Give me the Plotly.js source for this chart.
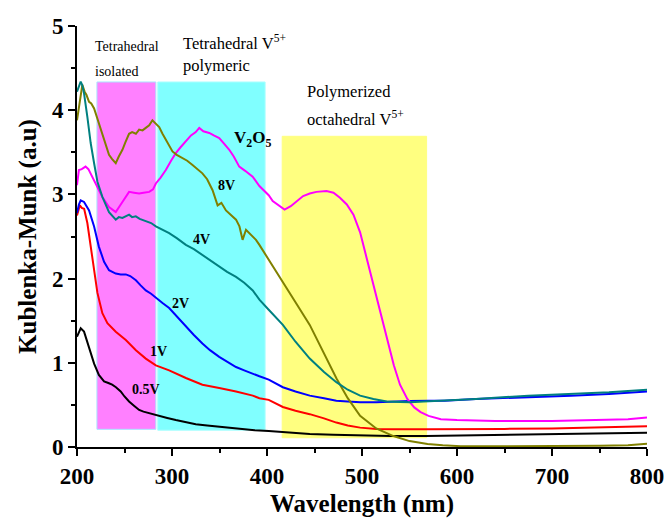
<!DOCTYPE html>
<html>
<head>
<meta charset="utf-8">
<script src="https://cdn.plot.ly/plotly-3.0.1.min.js"></script>
<style>html,body{margin:0;padding:0;background:#fff;}#chart{width:669px;height:522px;}</style>
</head>
<body>
<div id="chart"></div>
<script>
// ---- data ----
var seriesNames = ["8V", "V2O5", "4V", "2V", "1V", "0.5V"];

var wl8V = [200,203,205.6,208,210,212.7,215,218,222,226.7,230,233.7,237,240.8,244,247.8,251,254.8,258,262,265.4,269,272.4,276,279.4,283,286.5,290,293.5,297,300.5,305,311,316,321.6,327,332,337,342.7,348,352,356.8,362,367.4,371,374.3,377.9,383,388.4,392,395.4,400,408,416.7,430,445,460,473.3,485,498,515,533,550,569,585,604,650,700,750,780,800];
var val8V = [3.88,4.10,4.30,4.22,4.18,4.10,4.08,4.02,3.88,3.69,3.58,3.47,3.42,3.37,3.45,3.53,3.62,3.72,3.74,3.72,3.77,3.76,3.79,3.82,3.88,3.84,3.80,3.72,3.65,3.58,3.51,3.47,3.43,3.40,3.35,3.30,3.25,3.18,3.05,2.87,2.90,2.81,2.76,2.70,2.62,2.46,2.58,2.52,2.46,2.40,2.34,2.26,2.12,1.97,1.72,1.45,1.12,0.81,0.58,0.37,0.22,0.13,0.07,0.036,0.02,0.01,0.01,0.01,0.015,0.02,0.04];

var wlV2O5 = [200,202,205,209,212,216,221,226.7,233.7,240.8,247.8,254.8,260,265.4,270,276,280,283,288,293.5,299,304,309,314.6,320,325,328.7,333,339.2,344,349.7,355,360.3,365,370.8,377,384.9,392,401.8,406,412,418.5,425,432,438,445,452,462.6,470,476.8,484,491,498,505,512,519,526,533.5,540,547.7,555,561.7,570,583,600,640,700,750,780,800];
var valV2O5 = [3.11,3.29,3.30,3.33,3.30,3.21,3.10,2.97,2.85,2.79,2.91,3.03,3.02,3.01,3.02,3.03,3.06,3.13,3.20,3.29,3.40,3.49,3.56,3.63,3.70,3.74,3.79,3.75,3.73,3.70,3.67,3.60,3.53,3.45,3.33,3.28,3.21,3.10,2.99,2.92,2.87,2.82,2.86,2.93,2.98,3.01,3.03,3.04,3.02,2.96,2.88,2.76,2.55,2.24,1.93,1.61,1.28,0.97,0.74,0.57,0.47,0.415,0.37,0.33,0.32,0.31,0.31,0.32,0.33,0.35];

var wl4V = [200,202,203.9,205.5,207.4,210.9,214.4,218,221.5,226.7,233.7,240.8,244,247.8,251,254.8,258,261.9,266,272.4,278,283,290,297,305,314.6,323,332,340,349.7,358,367.4,376,385,392,401.8,416.7,430,445,460,473,485,498,512,526,540,551,565,586.6,620,675,720,760,800];
var val4V = [4.22,4.28,4.34,4.30,4.20,3.92,3.61,3.37,3.15,2.97,2.79,2.70,2.73,2.72,2.74,2.76,2.73,2.74,2.71,2.68,2.66,2.62,2.58,2.54,2.48,2.40,2.35,2.28,2.21,2.14,2.08,2.02,1.95,1.86,1.75,1.63,1.45,1.25,1.05,0.89,0.77,0.68,0.61,0.57,0.54,0.535,0.53,0.54,0.55,0.57,0.61,0.63,0.65,0.68];

var wl2V = [200,202,203.9,207.4,212.7,218,223,228.5,233.7,240.8,246,251.4,256,262,267,272.4,278,283,290,297,305,314.6,323,332,340,349.7,358,367.4,376,385,392,401.8,416.7,430,445,460,473,485,498,515,533,550,570,587,620,675,720,760,800];
var val2V = [2.78,2.88,2.93,2.91,2.81,2.62,2.38,2.20,2.10,2.06,2.05,2.05,2.03,1.98,1.92,1.86,1.82,1.77,1.71,1.65,1.55,1.43,1.33,1.23,1.15,1.07,1.01,0.95,0.91,0.875,0.84,0.80,0.71,0.66,0.61,0.58,0.55,0.54,0.53,0.53,0.54,0.545,0.55,0.55,0.57,0.59,0.61,0.63,0.66];

var wl1V = [200,202,203,205,207.5,210.9,214.4,218,221.5,226.7,232,240.8,251.4,262,272.4,283,297,314.6,332,349.7,367.4,385,392,401.8,416.7,430,445,460,473,485,498,515,533,570,604,650,700,750,800];
var val1V = [2.75,2.82,2.87,2.84,2.83,2.66,2.38,2.06,1.83,1.59,1.47,1.37,1.27,1.15,1.05,0.97,0.91,0.82,0.74,0.70,0.66,0.61,0.58,0.56,0.475,0.43,0.39,0.34,0.29,0.255,0.23,0.215,0.21,0.21,0.21,0.215,0.22,0.23,0.245];

var wl05V = [200,202,203.9,207.4,212.7,218,223,228.5,233,237,241,246,250,254.8,260,265.4,270,276,286.5,295,304,315,325,337,349.7,362,374.3,387,401.8,420,445,470,497,530,567.7,600,637,670,708,750,800];
var val05V = [1.31,1.37,1.41,1.37,1.19,0.99,0.855,0.78,0.76,0.74,0.71,0.66,0.60,0.54,0.49,0.44,0.42,0.40,0.37,0.345,0.32,0.295,0.27,0.255,0.24,0.23,0.22,0.20,0.19,0.175,0.155,0.145,0.135,0.13,0.13,0.135,0.14,0.145,0.15,0.16,0.17];

// shaded regions
var regionX0 = [221, 285, 416];
var regionX1 = [283, 398, 568];
var regionY0 = [0.21, 0.20, 0.11];
var regionY1 = [4.335, 4.335, 3.69];

var xTicks = [200, 300, 400, 500, 600, 700, 800];
var yTicks = [0, 1, 2, 3, 4, 5];

// ---- styles ----
var serif = 'Liberation Serif, Times New Roman, serif';
var lineColors = ["#808000", "#ff00ff", "#008080", "#0000ff", "#ff0000", "#000000"];
var regionFill = ["#ff80ff", "#80ffff", "#ffff80"];
var regionLine = ["#a8e4ff", "#a8ffff", "#ffff80"];

var xs = [wl8V, wlV2O5, wl4V, wl2V, wl1V, wl05V];
var ys = [val8V, valV2O5, val4V, val2V, val1V, val05V];

var traces = seriesNames.map(function (n, i) {
  return {x: xs[i], y: ys[i], name: n, type: 'scatter', mode: 'lines',
          line: {color: lineColors[i], width: 2}, hoverinfo: 'skip'};
});
traces = [traces[5], traces[4], traces[3], traces[1], traces[0], traces[2]];

var shapes = regionX0.map(function (x0, i) {
  return {type: 'rect', xref: 'x', yref: 'y', x0: x0, x1: regionX1[i], y0: regionY0[i], y1: regionY1[i],
          fillcolor: regionFill[i], line: {color: regionLine[i], width: 1}, layer: 'below'};
});

function ann(text, x, y, size, bold) {
  return {text: text, x: x, y: y, xref: 'x', yref: 'y', showarrow: false, xanchor: 'left', yanchor: 'middle',
          font: {family: serif, size: size, color: '#000', weight: bold ? 'bold' : 'normal'}};
}

var annotations = [
  ann('Tetrahedral', 216.5, 4.76, 14, false),
  ann('isolated', 216.5, 4.455, 14, false),
  ann('Tetrahedral V<sup>5+</sup>', 309, 4.80, 16.5, false),
  ann('polymeric', 309, 4.535, 16.5, false),
  ann('Polymerized', 440, 4.22, 16.5, false),
  ann('octahedral V<sup>5+</sup>', 440, 3.90, 16.5, false),
  ann('V<sub>2</sub>O<sub>5</sub>', 363, 3.66, 17, true),
  ann('8V', 346, 3.10, 14, true),
  ann('4V', 320, 2.46, 14, true),
  ann('2V', 297.5, 1.71, 14, true),
  ann('1V', 275, 1.13, 14, true),
  ann('0.5V', 256, 0.685, 14, true)
];

var tickFont = {family: serif, size: 23, color: '#000', weight: 'bold'};
var titleFont = {family: serif, size: 25, color: '#000', weight: 'bold'};

var layout = {
  width: 669, height: 522,
  margin: {l: 77, r: 22, t: 26, b: 75},
  paper_bgcolor: '#fff', plot_bgcolor: '#fff',
  showlegend: false,
  xaxis: {
    range: [200, 800], tickvals: xTicks, ticktext: xTicks.map(String),
    showgrid: false, zeroline: false, showline: true, linecolor: '#000', linewidth: 2,
    ticks: 'outside', ticklen: 7, tickwidth: 2, tickcolor: '#000',
    minor: {dtick: 50, ticks: 'outside', ticklen: 4, tickwidth: 2, tickcolor: '#000', showgrid: false},
    tickfont: tickFont,
    title: {text: 'Wavelength (nm)', font: titleFont, standoff: 7}
  },
  yaxis: {
    range: [0, 5], tickvals: yTicks, ticktext: yTicks.map(String),
    showgrid: false, zeroline: false, showline: true, linecolor: '#000', linewidth: 2,
    ticks: 'outside', ticklen: 7, tickwidth: 2, tickcolor: '#000',
    minor: {dtick: 0.5, ticks: 'outside', ticklen: 4, tickwidth: 2, tickcolor: '#000', showgrid: false},
    tickfont: tickFont,
    title: {text: 'Kublenka-Munk (a.u)', font: titleFont, standoff: 8}
  },
  shapes: shapes,
  annotations: annotations
};

Plotly.newPlot('chart', traces, layout, {staticPlot: true, displayModeBar: false});
</script>
</body>
</html>
